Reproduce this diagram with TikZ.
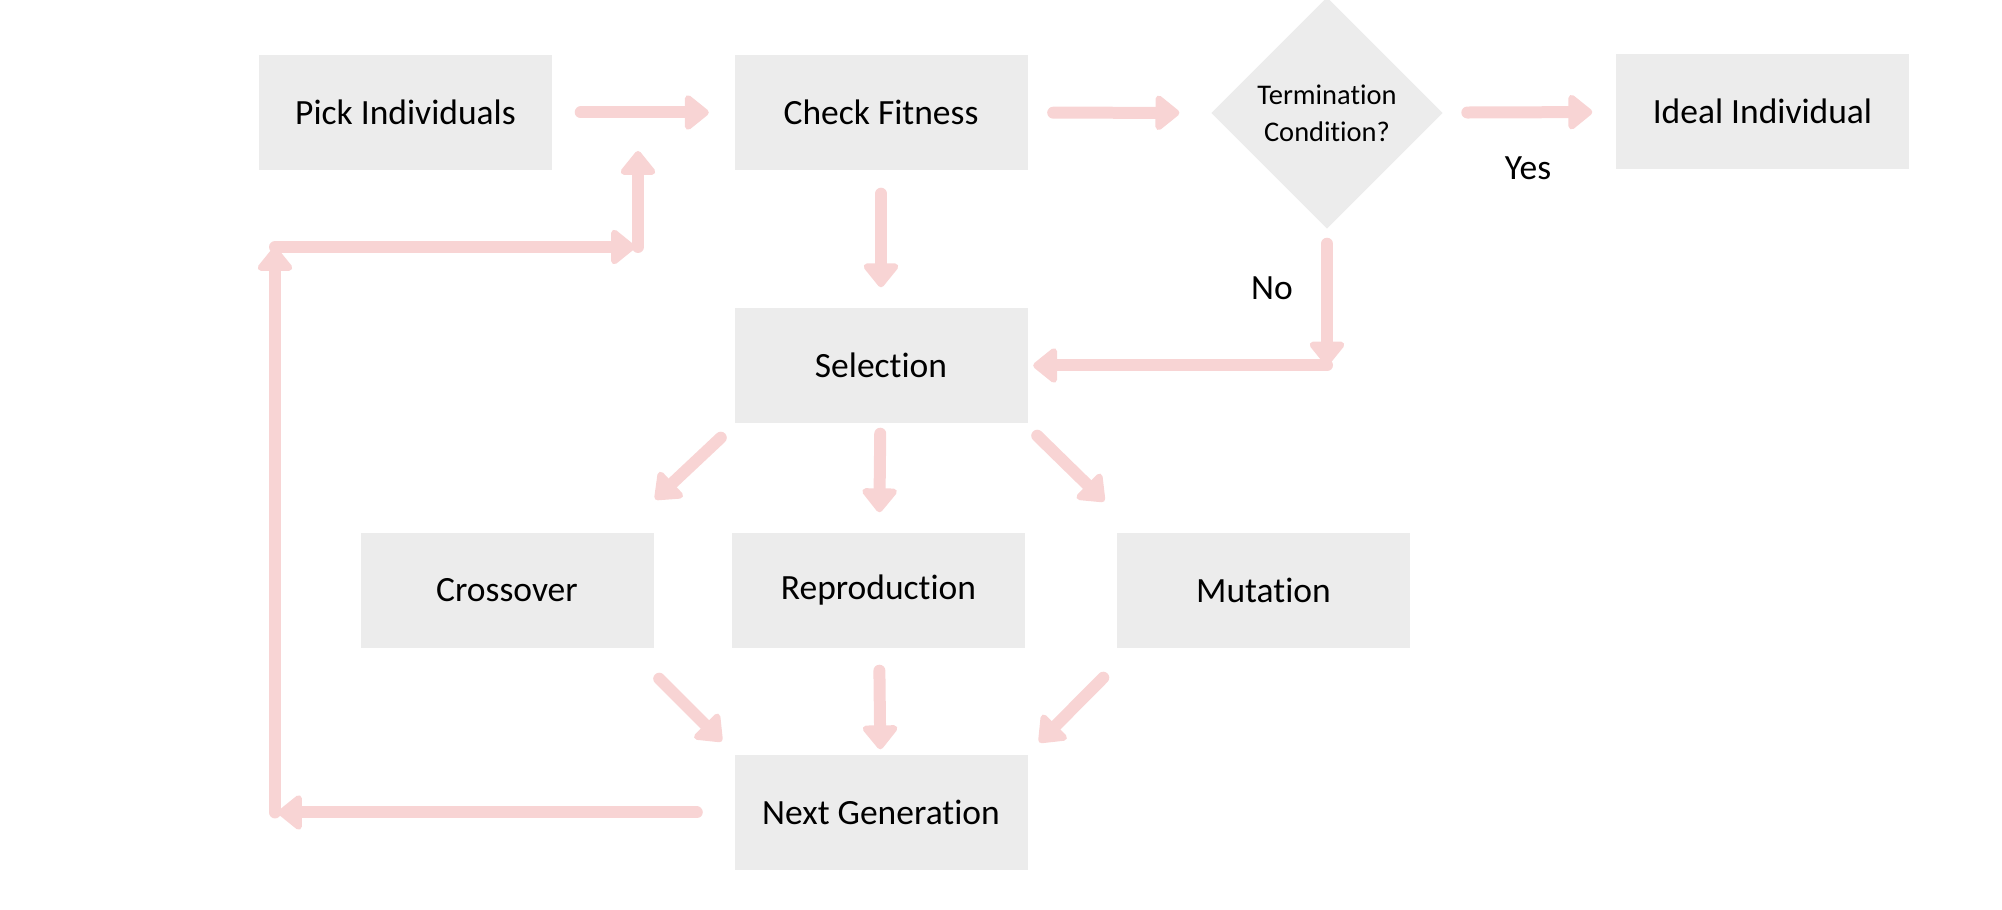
\documentclass[tikz,border=0pt]{standalone}
\usepackage{fontspec}
\setmainfont[Ligatures=NoCommon]{Carlito}
\usepackage{tikz}
\usetikzlibrary{arrows.meta, shapes.geometric}
\definecolor{boxgray}{RGB}{236,236,236}
\definecolor{arrowpink}{RGB}{248,212,212}

\begin{document}
\begin{tikzpicture}
				\useasboundingbox (0,0) rectangle (20.02,-9.10);
				\begin{scope}[every node/.style={rectangle,fill=boxgray,inner sep=0pt,
								minimum width=2.93cm,minimum height=1.15cm,
								font=\fontsize{10.1}{12}\selectfont}]
						\node (P) at (4.055,-1.125) {Pick Individuals};
						\node (C) at (8.81,-1.125) {Check Fitness};
						\node (I) at (17.625,-1.115) {Ideal Individual};
						\node (S) at (8.81,-3.655) {Selection};
						\node (X) at (5.07,-5.905) {Crossover};
						\node (R) at (8.785,-5.905) {Reproduction};
						\node (M) at (12.635,-5.905) {Mutation};
						\node (G) at (8.81,-8.125) {Next Generation};
				\end{scope}
				\node[diamond,aspect=1,fill=boxgray,inner sep=0pt,minimum size=2.32cm,
						align=center,font=\fontsize{8.1}{10.5}\selectfont] (T) at (13.27,-1.13) {Termination\\Condition?};
				\begin{scope}[every node/.style={font=\fontsize{10.1}{12}\selectfont}]
						\node (Yes) at (15.28,-1.68) {Yes};
						\node (No) at (12.72,-2.88) {No};
				\end{scope}
				\coordinate (N1) at (13.27,-3.655);
				\coordinate (L1) at (2.75,-8.125);
				\coordinate (L2) at (2.75,-2.47);
				\coordinate (L3) at (6.38,-2.47);
				\coordinate (L4) at (6.38,-1.51);
				\begin{scope}[>={Triangle[length=0.26cm,width=0.4cm,round]},
								every edge/.style={draw=arrowpink,line width=0.12cm,line cap=round,->}]
						\path (P) edge[shorten <=0.28cm,shorten >=0.25cm] (C);
						\path (C) edge[shorten <=0.25cm,shorten >=0.31cm] (T);
						\path (T) edge[shorten <=0.24cm,shorten >=0.23cm] (I);
						\path (C) edge[shorten <=0.23cm,shorten >=0.2cm] (S);
						\path (T) edge[shorten <=0.14cm] (N1);
						\path (N1) edge[shorten >=0.05cm] (S);
						\path (S) edge[shorten <=0.1cm,shorten >=0.2cm] (R);
						\path ([shift={(-0.13,-0.14)}]S.south west) edge ([shift={(0.01,0.33)}]X.north east);
						\path ([shift={(0.09,-0.12)}]S.south east) edge ([shift={(-0.12,0.31)}]M.north west);
						\path ([shift={(0.05,-0.3)}]X.south east) edge ([shift={(-0.12,0.13)}]G.north west);
						\path (R) edge[shorten <=0.22cm,shorten >=0.05cm] (G);
						\path ([shift={(-0.13,-0.29)}]M.south west) edge ([shift={(0.11,0.12)}]G.north east);
						\path (G) edge[shorten <=0.37cm,shorten >=0.03cm] (L1);
						\path (L1) edge (L2);
						\path (L2) edge[shorten >=0.03cm] (L3);
						\path (L3) edge (L4);
				\end{scope}
\end{tikzpicture}
\end{document}
